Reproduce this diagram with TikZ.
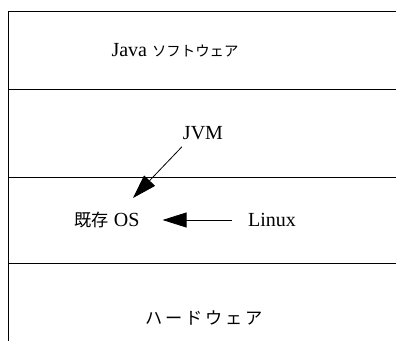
\documentclass[tikz,border=0pt]{standalone}
\usepackage{fontspec}
\setmainfont{Liberation Serif}
\newfontfamily\cjk[Scale=0.72]{Noto Sans CJK JP}
\newfontfamily\cjkb[Scale=0.86]{Noto Sans CJK JP}
\usetikzlibrary{arrows.meta}
\tikzset{
  layer/.style={line width=0.5pt},
  bigarrow/.style={-{Triangle[length=12pt,width=7.5pt]},line width=0.4pt},
  lbl/.style={font=\fontsize{10}{12}\selectfont}
}

\begin{document}
\begin{tikzpicture}[x=0.5pt,y=-0.5pt]
      \useasboundingbox (0,0) rectangle (396,341);
      \draw[layer] (8,12) -- (8,341);
      \draw[layer] (8,12) -- (396,12);
      \draw[layer] (8,90) -- (396,90);
      \draw[layer] (8,178) -- (396,178);
      \draw[layer] (8,264) -- (396,264);
      \node[lbl] (java) at (175,50) {Java {\cjk ソフトウェア}};
      \node[lbl] (jvm) at (203,133) {JVM};
      \node[lbl] (os) at (107,220) {{\cjkb 既存} OS};
      \node[lbl] (linux) at (272,220) {Linux};
      \node[lbl] (hw) at (204,318) {\cjkb ハ\,ー\,ド\,ウ\,ェ\,ア};
      \coordinate (jvmtip) at (133,198);
      \draw[bigarrow] ([xshift=3pt]jvm.south west) -- (jvmtip);
      \draw[bigarrow,shorten <=4.5pt,shorten >=8pt] (linux.west) -- (os.east);
\end{tikzpicture}
\end{document}
